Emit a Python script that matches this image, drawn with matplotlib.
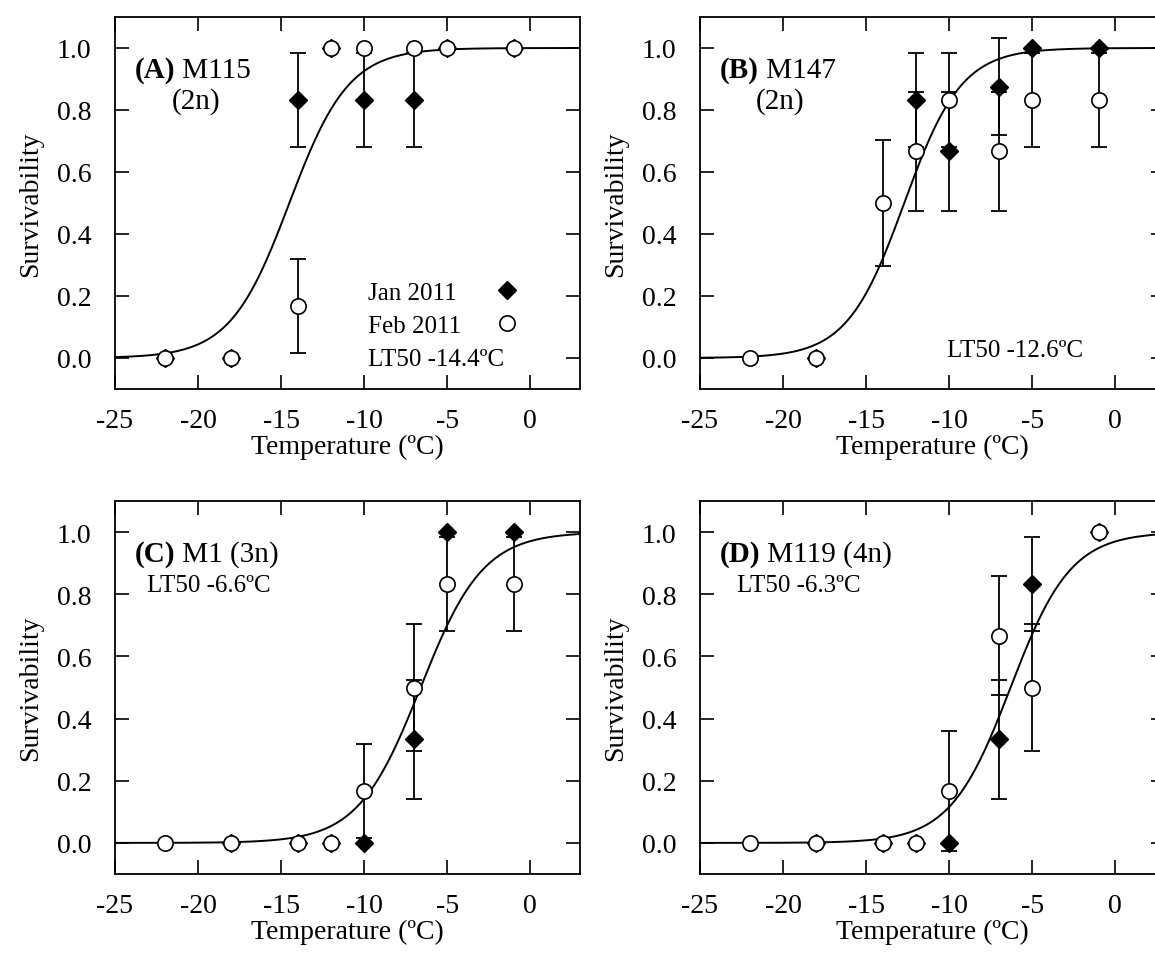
import numpy as np
import matplotlib
matplotlib.use("Agg")
import matplotlib.pyplot as plt
from matplotlib.lines import Line2D

plt.rcParams['font.family'] = ['Liberation Serif', 'DejaVu Serif']

# ---------------- data ----------------
# Panel A (M115, 2n)
A_jan_x = [-22, -18, -14, -12, -10, -7, -5, -1]
A_jan_y = [0.0, 0.0, 0.833, 1.0, 0.833, 0.833, 1.0, 1.0]
A_jan_e = [0, 0, 0.152, 0, 0.152, 0.152, 0, 0]
A_feb_x = [-22, -18, -14, -12, -10, -7, -5, -1]
A_feb_y = [0.0, 0.0, 0.167, 1.0, 1.0, 1.0, 1.0, 1.0]
A_feb_e = [0, 0, 0.152, 0, 0, 0, 0, 0]

# Panel B (M147, 2n)
B_jan_x = [-18, -12, -10, -7, -5, -1]
B_jan_y = [0.0, 0.833, 0.667, 0.875, 1.0, 1.0]
B_jan_e = [0, 0.152, 0.192, 0.156, 0, 0]
B_feb_x = [-22, -18, -14, -12, -10, -7, -5, -1]
B_feb_y = [0.0, 0.0, 0.5, 0.667, 0.833, 0.667, 0.833, 0.833]
B_feb_e = [0, 0, 0.204, 0.192, 0.152, 0.192, 0.152, 0.152]

# Panel C (M1, 3n)
C_jan_x = [-18, -14, -12, -10, -7, -5, -1]
C_jan_y = [0.0, 0.0, 0.0, 0.0, 0.333, 1.0, 1.0]
C_jan_e = [0, 0, 0, 0, 0.192, 0, 0]
C_feb_x = [-22, -18, -14, -12, -10, -7, -5, -1]
C_feb_y = [0.0, 0.0, 0.0, 0.0, 0.167, 0.5, 0.833, 0.833]
C_feb_e = [0, 0, 0, 0, 0.152, 0.204, 0.152, 0.152]

# Panel D (M119, 4n)
D_jan_x = [-18, -14, -12, -10, -7, -5, -1]
D_jan_y = [0.0, 0.0, 0.0, 0.0, 0.333, 0.833, 1.0]
D_jan_e = [0, 0, 0, 0, 0.192, 0.152, 0]
D_feb_x = [-22, -18, -14, -12, -10, -7, -5, -1]
D_feb_y = [0.0, 0.0, 0.0, 0.0, 0.167, 0.667, 0.5, 1.0]
D_feb_e = [0, 0, 0, 0, 0.192, 0.192, 0.204, 0]

# fitted logistic curves: midpoint (LT50) and slope
fit_mid = {'A': -14.5, 'B': -12.7, 'C': -6.6, 'D': -6.3}
fit_slope = {'A': 0.56, 'B': 0.58, 'C': 0.53, 'D': 0.55}

panel_bold = ['(A)', '(B)', '(C)', '(D)']
panel_name = [' M115', ' M147', ' M1 (3n)', ' M119 (4n)']
ploidy_AB = '(2n)'
series_labels = ['Jan 2011', 'Feb 2011']
lt50_labels = ['LT50 -14.4ºC', 'LT50 -12.6ºC', 'LT50 -6.6ºC', 'LT50 -6.3ºC']
xticks = [-25, -20, -15, -10, -5, 0]
yticks = [0.0, 0.2, 0.4, 0.6, 0.8, 1.0]
xlabel = 'Temperature (ºC)'
ylabel = 'Survivability'

# ---------------- figure ----------------
W, H = 1155, 954
fig = plt.figure(figsize=(W / 100, H / 100), dpi=100)


def rect(l, r, t, b):
    return [l / W, 1 - b / H, (r - l) / W, (b - t) / H]


axes = {
    'A': fig.add_axes(rect(115, 580, 18, 390)),
    'B': fig.add_axes(rect(700, 1165, 18, 390)),
    'C': fig.add_axes(rect(115, 580, 502, 875)),
    'D': fig.add_axes(rect(700, 1165, 502, 875)),
}

data = {
    'A': (A_jan_x, A_jan_y, A_jan_e, A_feb_x, A_feb_y, A_feb_e),
    'B': (B_jan_x, B_jan_y, B_jan_e, B_feb_x, B_feb_y, B_feb_e),
    'C': (C_jan_x, C_jan_y, C_jan_e, C_feb_x, C_feb_y, C_feb_e),
    'D': (D_jan_x, D_jan_y, D_jan_e, D_feb_x, D_feb_y, D_feb_e),
}

TICK_FS = 20
LAB_FS = 20
PANEL_FS = 21
SMALL_FS = 18

# text positions (data coords)
title_pos = {'A': (-23.8, 0.932), 'B': (-23.8, 0.932), 'C': (-23.8, 0.932), 'D': (-23.8, 0.932)}
ploidy_pos = {'A': (-20.1, 0.83), 'B': (-20.2, 0.83)}
lt50_pos = {'B': (-10.1, 0.025), 'C': (-23.1, 0.83), 'D': (-22.8, 0.83)}


def draw_err(ax, x, y, e):
    x = np.asarray(x, float); y = np.asarray(y, float); e = np.asarray(e, float)
    m = e > 0
    if m.any():
        ax.errorbar(x[m], y[m], yerr=e[m], fmt='none', ecolor='black',
                    elinewidth=1.3, capsize=6, capthick=1.3, zorder=2.5)


handles_A = None
for i, key in enumerate(['A', 'B', 'C', 'D']):
    ax = axes[key]
    jx, jy, je, fx, fy, fe = data[key]
    xs = np.linspace(-25, 3, 400)
    ys = 1.0 / (1.0 + np.exp(-fit_slope[key] * (xs - fit_mid[key])))
    ax.plot(xs, ys, color='black', lw=1.4, zorder=2)

    draw_err(ax, jx, jy, je)
    draw_err(ax, fx, fy, fe)
    hj, = ax.plot(jx, jy, linestyle='none', marker='D', ms=9.5, mfc='black',
                  mec='black', zorder=3, label=series_labels[0])
    hf, = ax.plot(fx, fy, linestyle='none', marker='o', ms=11, mfc='white',
                  mec='black', mew=1.2, zorder=4, label=series_labels[1])
    if key == 'A':
        handles_A = (hj, hf)

    ax.set_xlim(-25, 3)
    ax.set_ylim(-0.1, 1.1)
    ax.set_xticks(xticks)
    ax.set_yticks(yticks)
    ax.set_xticklabels([str(t) for t in xticks])
    ax.set_yticklabels(['%.1f' % t for t in yticks])
    ax.tick_params(direction='in', length=10, width=1.2, top=True, right=True,
                   labelsize=TICK_FS)
    ax.tick_params(axis='y', pad=17)
    ax.tick_params(axis='x', pad=14)
    for sp in ax.spines.values():
        sp.set_linewidth(1.3)
    ax.set_xlabel(xlabel, fontsize=LAB_FS, labelpad=0)
    ax.set_ylabel(ylabel, fontsize=LAB_FS, labelpad=10)

    tx, ty = title_pos[key]
    t = ax.text(tx, ty, panel_bold[i], fontsize=PANEL_FS, fontweight='bold',
                va='center', ha='left')
    ax.annotate(panel_name[i], xy=(1, 0), xycoords=t, fontsize=PANEL_FS,
                va='bottom', ha='left')
    if key in ploidy_pos:
        px, py = ploidy_pos[key]
        ax.text(px, py, ploidy_AB, fontsize=PANEL_FS, ha='center', va='center')
    if key in lt50_pos:
        lx, ly = lt50_pos[key]
        ax.text(lx, ly, lt50_labels[i], fontsize=SMALL_FS, ha='left', va='center')

# legend in panel A (text left, marker right)
axA = axes['A']
blank = Line2D([], [], linestyle='none')
leg = axA.legend([handles_A[0], handles_A[1], blank],
                 [series_labels[0], series_labels[1], lt50_labels[0]],
                 loc='upper left', bbox_to_anchor=(0.544, 0.289),
                 frameon=False, markerfirst=False, fontsize=SMALL_FS,
                 handlelength=1.0, handletextpad=1.0, labelspacing=0.42,
                 borderpad=0.0, borderaxespad=0.0, numpoints=1)

# align texts left and markers in one column
fig.canvas.draw()
r = fig.canvas.get_renderer()
col = leg._legend_handle_box.get_children()[0]
col.align = 'left'
rows = col.get_children()
p2px = fig.dpi / 72.0
widths = [txt.get_window_extent(r).width for txt in leg.texts]
handle_px = 1.0 * SMALL_FS * p2px
text_to_marker = 139.0  # px from text left edge to marker centre
for k in range(2):
    rows[k].sep = (text_to_marker - widths[k] - handle_px / 2.0) / p2px

fig.savefig('out.png', dpi=100)
